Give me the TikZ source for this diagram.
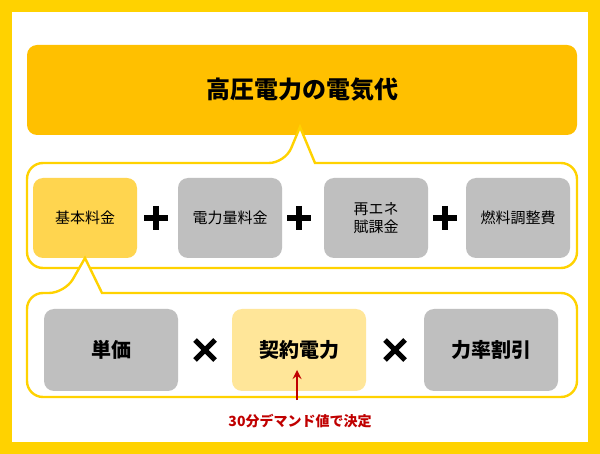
\documentclass[tikz,border=0pt]{standalone}
\usepackage{fontspec}
\newfontfamily\jp{Noto Sans CJK JP}
\definecolor{frameYellow}{HTML}{FFD200}
\definecolor{titleYellow}{HTML}{FFC000}
\definecolor{baseYellow}{HTML}{FFD54F}
\definecolor{paleYellow}{HTML}{FFE699}
\definecolor{boxGray}{HTML}{BFBFBF}
\definecolor{noteRed}{HTML}{C00000}
\tikzset{
  item/.style={rounded corners=5pt, inner sep=0pt, font=\jp\fontsize{7.5}{9}\selectfont, align=center},
  bigitem/.style={item, font=\jp\bfseries\fontsize{10}{12}\selectfont},
  callout/.style={draw=frameYellow, line width=1.2pt, fill=white},
  opsign/.style={line width=2.6pt}
}
\begin{document}
\begin{tikzpicture}[x=0.5pt, y=-0.5pt]
  % Frame
  \fill[frameYellow] (0,0) rectangle (600,454);
  \fill[white] (12,12) rectangle (588,442);
  \useasboundingbox (0,0) rectangle (600,454);
  % Title
  \node[item, fill=titleYellow, minimum width=275pt, minimum height=45pt,
        font=\jp\bfseries\fontsize{12}{14}\selectfont] (title) at (302,90) {高圧電力の電気代};
  % Upper callout
  \draw[callout, rounded corners=8pt] (27,163) -- (285,163) [sharp corners] -- (300,127) -- (315,163)
    [rounded corners=8pt] -- (577,163) -- (577,268) -- (27,268) -- cycle;
  \node[item, fill=baseYellow, minimum width=52pt, minimum height=40pt] (base) at (85,218) {基本料金};
  \node[item, fill=boxGray, minimum width=52pt, minimum height=40pt] (energy) at (230,218) {電力量料金};
  \node[item, fill=boxGray, minimum width=52pt, minimum height=40pt] (renew) at (376,218) {再エネ\\賦課金};
  \node[item, fill=boxGray, minimum width=52pt, minimum height=40pt] (fuel) at (518,218) {燃料調整費};
  \foreach \px in {156,299,445}
    \draw[opsign] (\px-12,218) -- (\px+12,218) (\px,206) -- (\px,230);
  % Lower callout
  \draw[callout, rounded corners=8pt] (27,293) -- (65,293) [sharp corners] -- (85,258) -- (102,293)
    [rounded corners=8pt] -- (577,293) -- (577,397) -- (27,397) -- cycle;
  \node[bigitem, fill=boxGray, minimum width=67pt, minimum height=41pt] (unit) at (111,350) {単価};
  \node[bigitem, fill=paleYellow, minimum width=67pt, minimum height=41pt] (contract) at (299,350) {契約電力};
  \node[bigitem, fill=boxGray, minimum width=67pt, minimum height=41pt] (factor) at (491,350) {力率割引};
  \foreach \px in {205,395}
    \draw[opsign] (\px-10,340) -- (\px+10,360) (\px-10,360) -- (\px+10,340);
  % Note
  \node[font=\jp\bfseries\fontsize{7}{8}\selectfont, text=noteRed] (note) at (300,421) {30分デマンド値で決定};
  \draw[noteRed, line width=1pt, -stealth] (297,400) -- (297,370);
\end{tikzpicture}
\end{document}
